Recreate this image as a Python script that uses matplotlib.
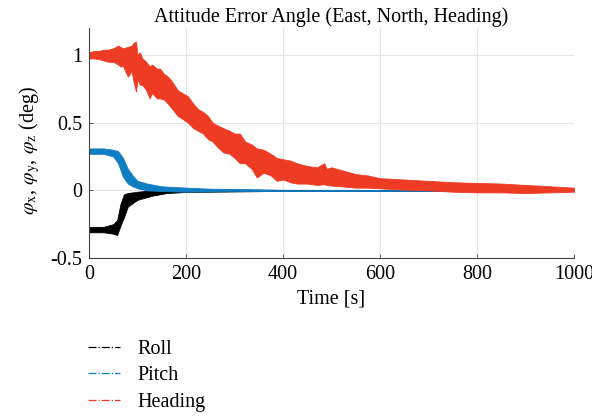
import matplotlib
matplotlib.use("Agg")
import matplotlib.pyplot as plt
from matplotlib.lines import Line2D

plt.rcParams["font.family"] = ["Liberation Serif", "DejaVu Serif"]
plt.rcParams["mathtext.fontset"] = "stix"

# envelopes of the noisy traces (time [s], lower, upper in deg)
heading_t = [0, 10, 20, 30, 40, 50, 60, 65, 70, 80,
             88, 92, 97, 100, 105, 110, 118, 125, 130, 140,
             146, 155, 163, 172, 183, 192, 204, 215, 225, 235,
             245, 255, 265, 277, 290, 300, 311, 322, 335, 346,
             360, 375, 387, 400, 415, 429, 450, 470, 485, 490,
             500, 520, 550, 575, 600, 650, 700, 750, 800, 850,
             900, 950, 1000]
heading_lo = [0.975, 0.975, 0.97, 0.96, 0.95, 0.95, 0.93, 0.915, 0.92, 0.84,
              0.88, 0.80, 0.73, 0.82, 0.78, 0.78, 0.74, 0.68, 0.72, 0.68,
              0.68, 0.67, 0.64, 0.60, 0.55, 0.53, 0.50, 0.46, 0.44, 0.42,
              0.38, 0.36, 0.32, 0.28, 0.27, 0.24, 0.20, 0.20, 0.16, 0.095,
              0.13, 0.11, 0.07, 0.08, 0.06, 0.05, 0.05, 0.04, 0.045, 0.04,
              0.035, 0.03, 0.02, 0.02, 0.015, 0.005, 0.0, -0.01, -0.015, -0.015,
              -0.02, -0.015, -0.01]
heading_hi = [1.02, 1.03, 1.03, 1.04, 1.04, 1.05, 1.07, 1.06, 1.05, 1.06,
              1.07, 1.09, 1.10, 1.00, 1.02, 0.975, 0.95, 0.915, 0.93, 0.90,
              0.90, 0.86, 0.84, 0.80, 0.74, 0.72, 0.695, 0.64, 0.60, 0.58,
              0.55, 0.50, 0.48, 0.46, 0.44, 0.42, 0.42, 0.36, 0.34, 0.31,
              0.30, 0.27, 0.24, 0.23, 0.22, 0.20, 0.18, 0.17, 0.20, 0.16,
              0.17, 0.15, 0.12, 0.11, 0.09, 0.08, 0.07, 0.06, 0.055, 0.05,
              0.04, 0.03, 0.02]

pitch_t = [0, 30, 50, 60, 70, 80, 90, 100, 120, 150, 200, 250, 300, 400, 1000]
pitch_lo = [0.27, 0.27, 0.25, 0.20, 0.10, 0.05, 0.03, 0.015, 0.0, -0.005, -0.01, -0.008, -0.006, -0.005, -0.004]
pitch_hi = [0.31, 0.31, 0.30, 0.29, 0.24, 0.16, 0.11, 0.07, 0.05, 0.03, 0.02, 0.012, 0.01, 0.004, 0.002]

roll_t = [0, 30, 50, 58, 65, 72, 80, 100, 130, 160, 200, 300, 400, 1000]
roll_lo = [-0.31, -0.31, -0.32, -0.33, -0.26, -0.20, -0.12, -0.07, -0.04, -0.02, -0.012, -0.008, -0.004, -0.003]
roll_hi = [-0.27, -0.27, -0.25, -0.22, -0.10, -0.03, -0.02, -0.01, 0.0, 0.005, 0.008, 0.006, 0.003, 0.002]

labels = ["Roll", "Pitch", "Heading"]
colors = ["#000000", "#0F7DC2", "#EE3B24"]

FS = 14.5

fig = plt.figure(figsize=(5.92, 4.17), dpi=100)
ax = fig.add_axes([0.1503, 0.3813, 0.8193, 0.5516])

series = [(roll_t, roll_lo, roll_hi), (pitch_t, pitch_lo, pitch_hi), (heading_t, heading_lo, heading_hi)]
for (t, lo, hi), c in zip(series, colors):
    ax.fill_between(t, lo, hi, color=c, linewidth=0.6, edgecolor=c)

ax.set_xlim(0, 1000)
ax.set_ylim(-0.5, 1.2)
ax.set_xticks([0, 200, 400, 600, 800, 1000])
ax.set_yticks([-0.5, 0, 0.5, 1])
ax.set_yticklabels(["-0.5", "0", "0.5", "1"])
ax.grid(True, color="#e6e6e6", linewidth=0.8)
ax.set_axisbelow(True)
for s in ["top", "right"]:
    ax.spines[s].set_visible(False)
for s in ["left", "bottom"]:
    ax.spines[s].set_color("#444444")
    ax.spines[s].set_linewidth(0.8)
ax.tick_params(direction="in", length=3, width=0.6, colors="#444444", labelcolor="black",
               labelsize=FS, pad=5)

ax.set_title("Attitude Error Angle (East, North, Heading)", fontsize=FS, pad=4)
ax.set_xlabel("Time [s]", fontsize=FS, labelpad=4)
ax.set_ylabel(r"$\varphi_{\rm x}$, $\varphi_{\rm y}$, $\varphi_{\rm z}$ (deg)", fontsize=FS)
ax.yaxis.set_label_coords(-0.097, 0.47)

handles = [Line2D([], [], color=c, linestyle="-.", linewidth=0.9) for c in colors]
fig.legend(handles, labels, loc="upper left", bbox_to_anchor=(0.135, 0.204), frameon=False,
           fontsize=FS, handlelength=1.6, labelspacing=0.36, handletextpad=0.85, borderaxespad=0)

fig.savefig("out.png", dpi=100)
